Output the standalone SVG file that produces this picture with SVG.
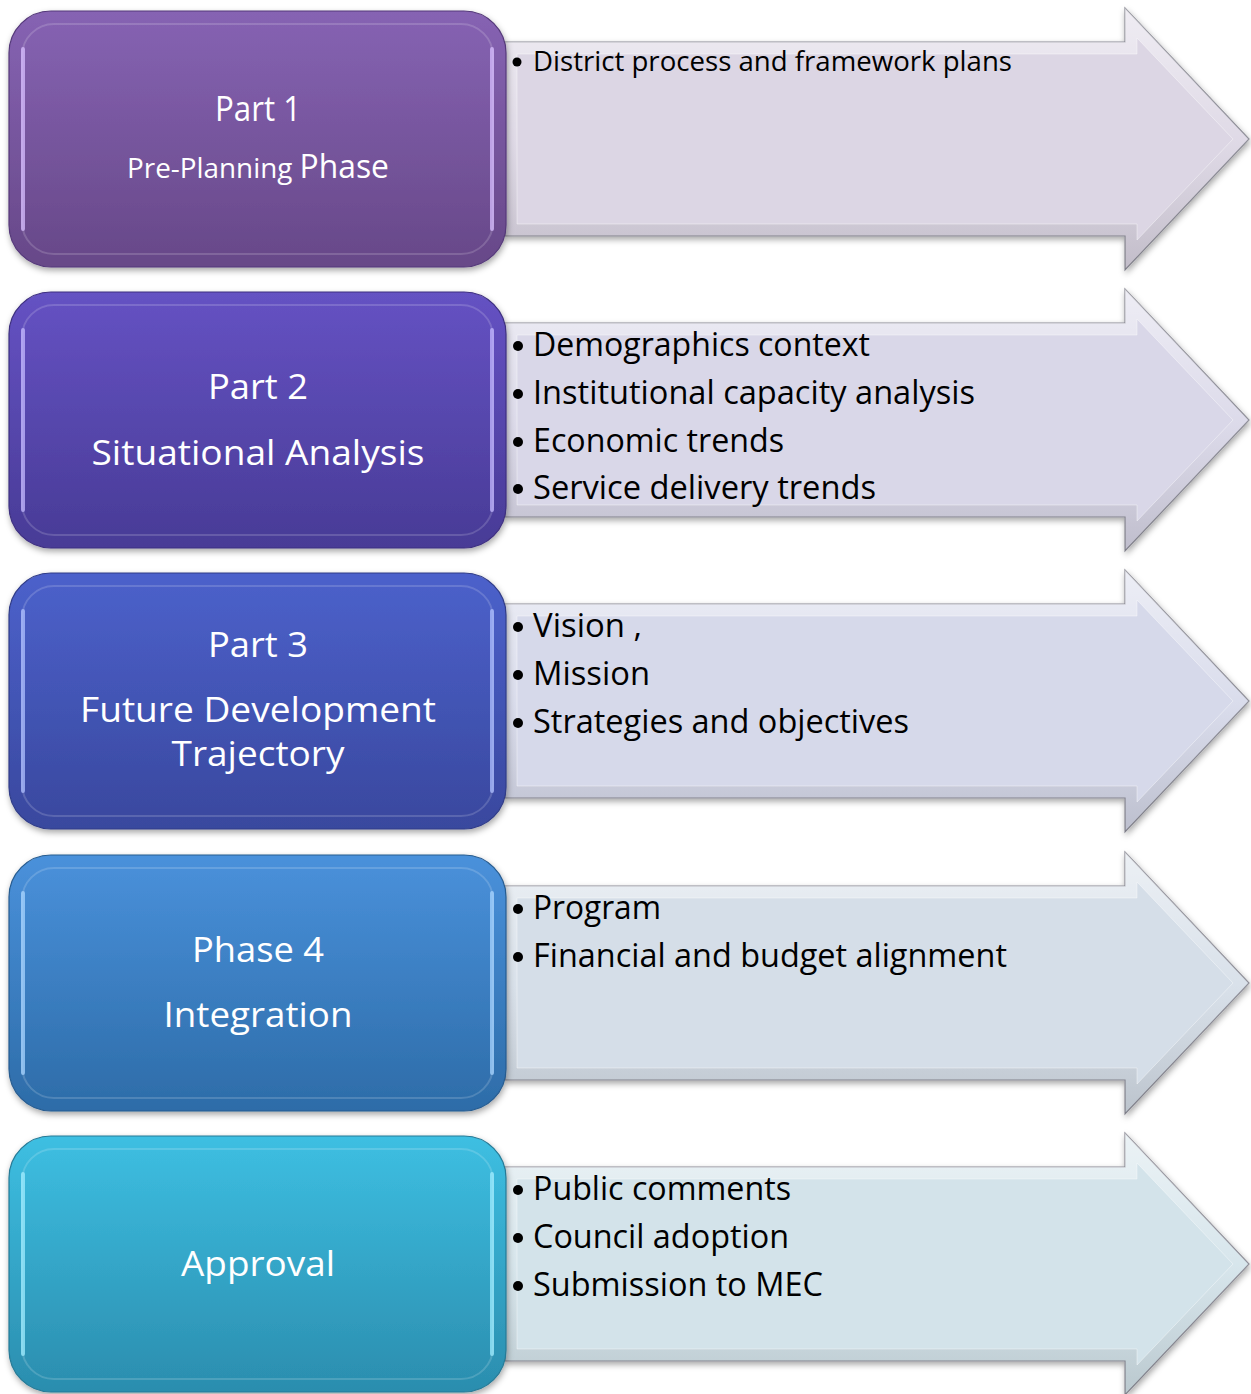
<svg xmlns="http://www.w3.org/2000/svg" width="1251" height="1394" viewBox="0 0 1251 1394">
<defs>
<style>
.bt{font-family:"Open Sans","Liberation Sans",sans-serif;fill:#ffffff;text-anchor:middle;font-size:35px}
.at{font-family:"Open Sans","Liberation Sans",sans-serif;fill:#000000;font-size:32px}
.at1{font-family:"Open Sans","Liberation Sans",sans-serif;fill:#000000;font-size:27px}
.bul{fill:#000000}
.outer{stroke:#8a8a94;stroke-width:1.2}
.hl{fill:none;stroke:#ffffff;stroke-opacity:0.16;stroke-width:2}
.side{fill:none;stroke-width:4;stroke-linecap:round;stroke-opacity:0.75}
.bx{stroke-width:1.2}
</style>
<filter id="sh" x="-5%" y="-5%" width="112%" height="115%">
<feDropShadow dx="1" dy="3" stdDeviation="3" flood-color="#000000" flood-opacity="0.35"/>
</filter>
<linearGradient id="g1" x1="0" y1="0" x2="0" y2="1"><stop offset="0" stop-color="#8663B3"/><stop offset="1" stop-color="#674888"/></linearGradient>
<linearGradient id="g2" x1="0" y1="0" x2="0" y2="1"><stop offset="0" stop-color="#6552C3"/><stop offset="1" stop-color="#483B96"/></linearGradient>
<linearGradient id="g3" x1="0" y1="0" x2="0" y2="1"><stop offset="0" stop-color="#4C61CB"/><stop offset="1" stop-color="#39489E"/></linearGradient>
<linearGradient id="g4" x1="0" y1="0" x2="0" y2="1"><stop offset="0" stop-color="#4A91DB"/><stop offset="1" stop-color="#2D6CA8"/></linearGradient>
<linearGradient id="g5" x1="0" y1="0" x2="0" y2="1"><stop offset="0" stop-color="#3DBFE2"/><stop offset="1" stop-color="#2B8DAE"/></linearGradient>
<linearGradient id="bev" x1="0" y1="0" x2="0" y2="1"><stop offset="0" stop-color="#ffffff" stop-opacity="0.55"/><stop offset="0.5" stop-color="#ffffff" stop-opacity="0.1"/><stop offset="1" stop-color="#000000" stop-opacity="0.12"/></linearGradient>
<polygon id="arrOut" points="505,31 1125,31 1125,-3 1249,128 1125,259 1125,225 505,225"/>
<polygon id="arrIn" points="517,43 1137,43 1137,27 1233,128 1137,229 1137,213 517,213"/>
<path id="sides" d="M23,38 V218 M492,38 V218"/>
</defs>

<g id="connectors"></g>

<!-- Arrows -->
<g id="arrow1" transform="translate(0,11)">
<use href="#arrOut" class="outer" fill="#DCD6E4" filter="url(#sh)"/>
<use href="#arrOut" fill="url(#bev)"/>
<use href="#arrIn" fill="#DCD6E4" stroke="#ffffff" stroke-opacity="0.4"/>
</g>
<g id="arrow2" transform="translate(0,292)">
<use href="#arrOut" class="outer" fill="#D9D7E8" filter="url(#sh)"/>
<use href="#arrOut" fill="url(#bev)"/>
<use href="#arrIn" fill="#D9D7E8" stroke="#ffffff" stroke-opacity="0.4"/>
</g>
<g id="arrow3" transform="translate(0,573)">
<use href="#arrOut" class="outer" fill="#D6D9EA" filter="url(#sh)"/>
<use href="#arrOut" fill="url(#bev)"/>
<use href="#arrIn" fill="#D6D9EA" stroke="#ffffff" stroke-opacity="0.4"/>
</g>
<g id="arrow4" transform="translate(0,855)">
<use href="#arrOut" class="outer" fill="#D5DEE8" filter="url(#sh)"/>
<use href="#arrOut" fill="url(#bev)"/>
<use href="#arrIn" fill="#D5DEE8" stroke="#ffffff" stroke-opacity="0.4"/>
</g>
<g id="arrow5" transform="translate(0,1136)">
<use href="#arrOut" class="outer" fill="#D3E3EA" filter="url(#sh)"/>
<use href="#arrOut" fill="url(#bev)"/>
<use href="#arrIn" fill="#D3E3EA" stroke="#ffffff" stroke-opacity="0.4"/>
</g>

<!-- Arrow texts -->
<g id="arrow1-text">
<circle class="bul" cx="517" cy="62" r="4.5"/>
<text class="at1" x="533" y="71" textLength="479" lengthAdjust="spacingAndGlyphs">District process and framework plans</text>
</g>
<g id="arrow2-text">
<circle class="bul" cx="518" cy="346" r="5"/>
<text class="at" x="533" y="356" textLength="337" lengthAdjust="spacingAndGlyphs">Demographics context</text>
<circle class="bul" cx="518" cy="394" r="5"/>
<text class="at" x="533" y="404" textLength="442" lengthAdjust="spacingAndGlyphs">Institutional capacity analysis</text>
<circle class="bul" cx="518" cy="442" r="5"/>
<text class="at" x="533" y="452" textLength="251" lengthAdjust="spacingAndGlyphs">Economic trends</text>
<circle class="bul" cx="518" cy="489" r="5"/>
<text class="at" x="533" y="499" textLength="343" lengthAdjust="spacingAndGlyphs">Service delivery trends</text>
</g>
<g id="arrow3-text">
<circle class="bul" cx="518" cy="627" r="5"/>
<text class="at" x="533" y="637" textLength="109" lengthAdjust="spacingAndGlyphs">Vision ,</text>
<circle class="bul" cx="518" cy="675" r="5"/>
<text class="at" x="533" y="685" textLength="117" lengthAdjust="spacingAndGlyphs">Mission</text>
<circle class="bul" cx="518" cy="723" r="5"/>
<text class="at" x="533" y="733" textLength="376" lengthAdjust="spacingAndGlyphs">Strategies and objectives</text>
</g>
<g id="arrow4-text">
<circle class="bul" cx="518" cy="909" r="5"/>
<text class="at" x="533" y="919" textLength="128" lengthAdjust="spacingAndGlyphs">Program</text>
<circle class="bul" cx="518" cy="957" r="5"/>
<text class="at" x="533" y="967" textLength="474" lengthAdjust="spacingAndGlyphs">Financial and budget alignment</text>
</g>
<g id="arrow5-text">
<circle class="bul" cx="518" cy="1190" r="5"/>
<text class="at" x="533" y="1200" textLength="258" lengthAdjust="spacingAndGlyphs">Public comments</text>
<circle class="bul" cx="518" cy="1238" r="5"/>
<text class="at" x="533" y="1248" textLength="256" lengthAdjust="spacingAndGlyphs">Council adoption</text>
<circle class="bul" cx="518" cy="1286" r="5"/>
<text class="at" x="533" y="1296" textLength="290" lengthAdjust="spacingAndGlyphs">Submission to MEC</text>
</g>

<!-- Boxes -->
<g id="box1">
<rect class="bx" x="9" y="11" width="497" height="256" rx="42" fill="url(#g1)" stroke="#55397A" filter="url(#sh)"/>
<rect class="hl" x="22" y="24" width="471" height="230" rx="32"/>
<use href="#sides" class="side" stroke="#D7BDFF" transform="translate(0,11)"/>
<text class="bt" x="258" y="121" font-size="32" textLength="86" lengthAdjust="spacingAndGlyphs">Part 1</text>
<text class="bt" x="258" y="178" textLength="262" lengthAdjust="spacingAndGlyphs"><tspan font-size="28">Pre-Planning </tspan><tspan font-size="32">Phase</tspan></text>
</g>
<g id="box2">
<rect class="bx" x="9" y="292" width="497" height="256" rx="42" fill="url(#g2)" stroke="#3E3080" filter="url(#sh)"/>
<rect class="hl" x="22" y="305" width="471" height="230" rx="32"/>
<use href="#sides" class="side" stroke="#C3B8FF" transform="translate(0,292)"/>
<text class="bt" x="258" y="399" textLength="100" lengthAdjust="spacingAndGlyphs">Part 2</text>
<text class="bt" x="258" y="465" textLength="333" lengthAdjust="spacingAndGlyphs">Situational Analysis</text>
</g>
<g id="box3">
<rect class="bx" x="9" y="573" width="497" height="256" rx="42" fill="url(#g3)" stroke="#303C88" filter="url(#sh)"/>
<rect class="hl" x="22" y="586" width="471" height="230" rx="32"/>
<use href="#sides" class="side" stroke="#AFC0FF" transform="translate(0,573)"/>
<text class="bt" x="258" y="657" textLength="100" lengthAdjust="spacingAndGlyphs">Part 3</text>
<text class="bt" x="258" y="722" font-size="34" textLength="356" lengthAdjust="spacingAndGlyphs">Future Development</text>
<text class="bt" x="258" y="766" font-size="34" textLength="173" lengthAdjust="spacingAndGlyphs">Trajectory</text>
</g>
<g id="box4">
<rect class="bx" x="9" y="855" width="497" height="256" rx="42" fill="url(#g4)" stroke="#275C90" filter="url(#sh)"/>
<rect class="hl" x="22" y="868" width="471" height="230" rx="32"/>
<use href="#sides" class="side" stroke="#A8D4FF" transform="translate(0,855)"/>
<text class="bt" x="258" y="962" textLength="132" lengthAdjust="spacingAndGlyphs">Phase 4</text>
<text class="bt" x="258" y="1027" textLength="189" lengthAdjust="spacingAndGlyphs">Integration</text>
</g>
<g id="box5">
<rect class="bx" x="9" y="1136" width="497" height="256" rx="42" fill="url(#g5)" stroke="#267A96" filter="url(#sh)"/>
<rect class="hl" x="22" y="1149" width="471" height="230" rx="32"/>
<use href="#sides" class="side" stroke="#A0ECFF" transform="translate(0,1136)"/>
<text class="bt" x="258" y="1276" textLength="154" lengthAdjust="spacingAndGlyphs">Approval</text>
</g>
</svg>
